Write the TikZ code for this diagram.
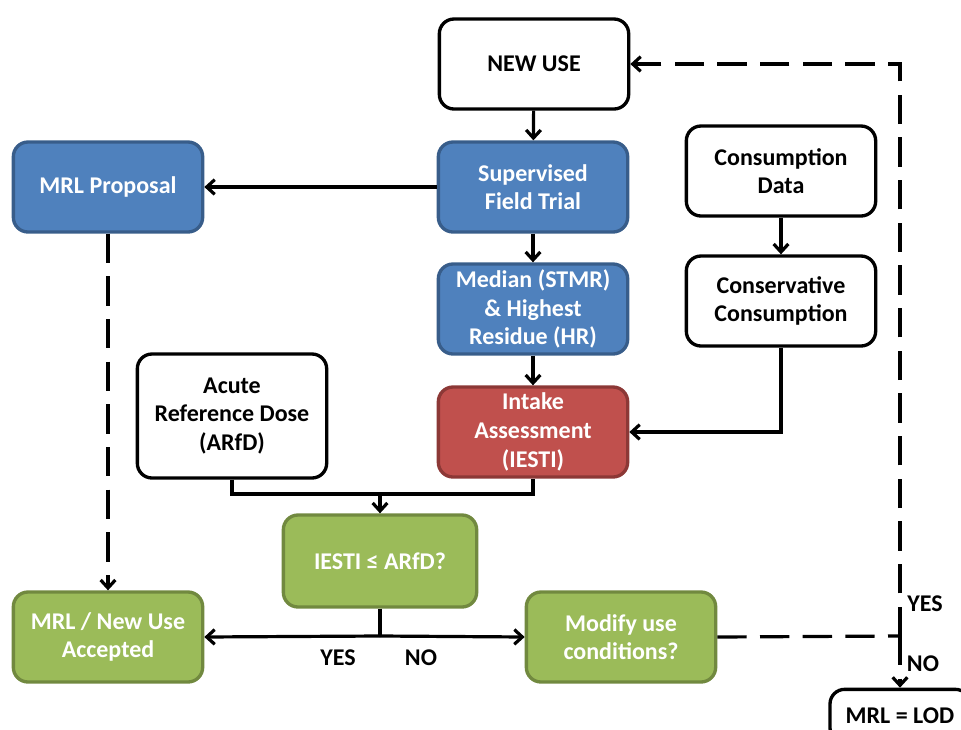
\documentclass[tikz,border=0pt]{standalone}
\usepackage{fontspec}
\setmainfont{Carlito}
\usetikzlibrary{arrows.meta}
\definecolor{bfill}{HTML}{4F81BD}
\definecolor{bdraw}{HTML}{385D8A}
\definecolor{rfill}{HTML}{C0504D}
\definecolor{rdraw}{HTML}{8C3836}
\definecolor{gfill}{HTML}{9BBB59}
\definecolor{gdraw}{HTML}{71893F}
\tikzset{
  box/.style={rounded corners=11pt, line width=2.5pt, minimum width=142pt, minimum height=67.5pt,
    align=center, inner sep=0pt, font=\bfseries\fontsize{18}{21.5}\selectfont},
  wbox/.style={box, draw=black, fill=white, text=black},
  bbox/.style={box, draw=bdraw, fill=bfill, text=white},
  rbox/.style={box, draw=rdraw, fill=rfill, text=white},
  gbox/.style={box, draw=gdraw, fill=gfill, text=white},
  ln/.style={line width=2.4pt, draw=black},
  arr/.style={ln, -{Straight Barb[length=6pt,width=11pt,line width=2.4pt]}},
  dsh/.style={dash pattern=on 22pt off 10pt},
  lbl/.style={font=\bfseries\fontsize{18}{21}\selectfont, inner sep=0pt}
}
\begin{document}
\begin{tikzpicture}[x=0.75pt,y=-0.75pt]
\useasboundingbox (0,0) rectangle (961,729);
\node[wbox] (newuse) at (534,64) {NEW USE};
\node[bbox] (sft) at (533,187) {Supervised\\Field Trial};
\node[bbox] (mrlp) at (108,187) {MRL Proposal};
\node[wbox] (cdata) at (781,171) {Consumption\\Data};
\node[bbox] (median) at (533,309) {Median (STMR)\\\& Highest\\Residue (HR)};
\node[wbox] (ccons) at (781,301) {Conservative\\Consumption};
\node[wbox, minimum height=93pt] (acute) at (232,416) {Acute\\Reference Dose\\(ARfD)};
\node[rbox] (intake) at (533,432) {Intake\\Assessment\\(IESTI)};
\node[gbox, minimum width=145pt, minimum height=69pt] (iesti) at (380,561) {IESTI ≤ ARfD?};
\node[gbox] (accepted) at (108,637) {MRL / New Use\\Accepted};
\node[gbox] (modify) at (621,637) {Modify use\\conditions?};
\node[wbox, minimum width=105pt, minimum height=40pt] (lod) at (900,716) {MRL = LOD};

\coordinate (jl) at (232,494);
\coordinate (jr) at (533,494);
\coordinate (split) at (380,636);
\coordinate (dj) at (900,636);
\coordinate (dtop) at (900,64);

\draw[arr] (newuse) -- (sft);
\draw[arr] (sft) -- (mrlp);
\draw[arr] (sft) -- (median);
\draw[arr] (cdata) -- (ccons);
\draw[arr] (median) -- (intake);
\draw[arr] (ccons.south) |- (intake.east);
\draw[ln] (acute.south) -- (jl) -- (jr) -- (intake.south);
\draw[arr] (iesti.north |- jl) -- (iesti.north);
\draw[ln] (iesti.south) -- (split);
\draw[arr] (split) -- (accepted.east);
\draw[arr] (split) -- (modify.west);
\draw[arr, dsh] (mrlp) -- (accepted);
\draw[ln, dsh] (modify.east) -- (dj);
\draw[arr, dsh] (dj) -- (dtop) -- (newuse.east);
\draw[arr, dsh] (dj) -- (lod.north);

\node[lbl] (yes1) at (338,658) {YES};
\node[lbl] (no1) at (421,658) {NO};
\node[lbl] (yes2) at (925,604) {YES};
\node[lbl] (no2) at (923,664) {NO};
\end{tikzpicture}
\end{document}
